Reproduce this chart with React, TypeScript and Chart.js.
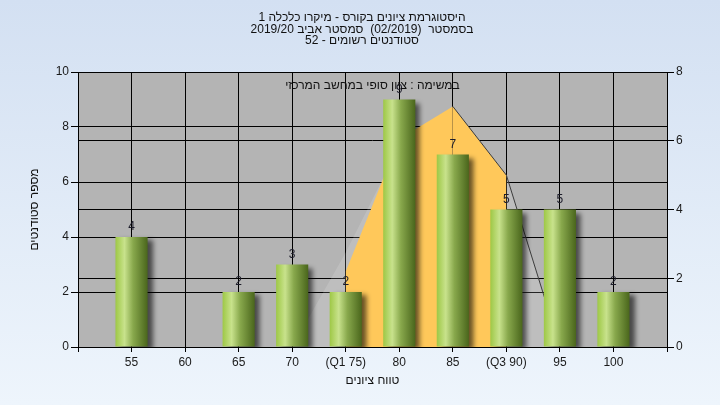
import React, { useEffect, useRef } from 'react';
import { Chart, registerables } from 'chart.js';

Chart.register(...registerables);

const FONT = 'Arial, "Liberation Sans", sans-serif';

const titleLines = [
  'היסטוגרמת ציונים בקורס - מיקרו כלכלה 1',
  'בסמסטר  (02/2019)  סמסטר אביב 2019/20',
  'סטודנטים רשומים - 52',
];
const noteText = 'במשימה : ציון סופי במחשב המרכזי';
const yTitle = 'מספר סטודנטים';
const xTitle = 'טווח ציונים';

const categories = ['', '55', '60', '65', '70', '(Q1 75)', '80', '85', '(Q3 90)', '95', '100', ''];
const studentCounts = [null, 4, 0, 2, 3, 2, 9, 7, 5, 5, 2, null];
const curveAll = [0, 0, 0, 0, 0, 2.75, 5.85, 7, 5, 0, 0, 0];
const curveQ = [null, null, null, null, null, 2.2, 6.05, 7, 5, null, null, null];
const leftTicks = { min: 0, max: 10, step: 2 };
const rightTicks = { min: 0, max: 8, step: 2 };

const bgPlugin = {
  id: 'bgPlugin',
  beforeDraw(chart: any) {
    const { ctx, width, height, chartArea } = chart;
    ctx.save();
    const g = ctx.createLinearGradient(0, 0, 0, height);
    g.addColorStop(0, '#d3e0f2');
    g.addColorStop(1, '#eef5fc');
    ctx.fillStyle = g;
    ctx.fillRect(0, 0, width, height);
    if (chartArea) {
      ctx.fillStyle = '#b4b4b4';
      ctx.fillRect(chartArea.left, chartArea.top, chartArea.right - chartArea.left, chartArea.bottom - chartArea.top);
    }
    ctx.restore();
  },
};

const shadowPlugin = {
  id: 'shadowPlugin',
  beforeDatasetDraw(chart: any, args: any) {
    if (args.index !== 0) return;
    const ctx = chart.ctx;
    ctx.save();
    ctx.shadowColor = 'rgba(0,0,0,0.6)';
    ctx.shadowOffsetX = 5;
    ctx.shadowOffsetY = 3;
    ctx.shadowBlur = 5;
  },
  afterDatasetDraw(chart: any, args: any) {
    if (args.index !== 0) return;
    chart.ctx.restore();
  },
};

const textPlugin = {
  id: 'textPlugin',
  afterDatasetsDraw(chart: any) {
    const { ctx, chartArea } = chart;
    ctx.save();
    ctx.font = `12px ${FONT}`;
    ctx.textAlign = 'center';
    ctx.textBaseline = 'bottom';
    ctx.fillStyle = '#1c1c2a';
    const meta = chart.getDatasetMeta(0);
    meta.data.forEach((el: any, i: number) => {
      const v = studentCounts[i];
      if (!v) return;
      ctx.fillText(String(v), el.x, el.y - 4);
    });
    ctx.textBaseline = 'middle';
    ctx.fillStyle = '#111';
    ctx.direction = 'rtl';
    ctx.fillText(noteText, (chartArea.left + chartArea.right) / 2, chartArea.top + 14);
    ctx.restore();
  },
  afterDraw(chart: any) {
    const ctx = chart.ctx;
    ctx.save();
    ctx.font = `12px ${FONT}`;
    ctx.textAlign = 'center';
    ctx.textBaseline = 'middle';
    ctx.fillStyle = '#111';
    ctx.direction = 'rtl';
    const ys = [18, 30, 41];
    titleLines.forEach((t, i) => ctx.fillText(t, 362, ys[i]));
    ctx.restore();
  },
};

export default function App() {
  const ref = useRef<HTMLCanvasElement | null>(null);
  useEffect(() => {
    if (!ref.current) return;
    const barColor = (c: any) => {
      const chart = c.chart;
      const xs = chart.scales && chart.scales.x;
      if (!xs || c.dataIndex == null) return '#9cc84a';
      const cx = xs.getPixelForValue(c.dataIndex);
      if (!Number.isFinite(cx)) return '#9cc84a';
      const half = 16;
      const g = chart.ctx.createLinearGradient(cx - half, 0, cx + half, 0);
      g.addColorStop(0, '#9ec846');
      g.addColorStop(0.28, '#c8e28c');
      g.addColorStop(0.55, '#88a84c');
      g.addColorStop(1, '#4a661c');
      return g;
    };
    const tickFont = { family: FONT, size: 12 };
    const chart = new Chart(ref.current, {
      type: 'bar',
      data: {
        labels: categories,
        datasets: [
          {
            type: 'bar',
            data: studentCounts as any,
            backgroundColor: barColor as any,
            borderWidth: 0,
            barPercentage: 0.6,
            categoryPercentage: 1,
            yAxisID: 'y',
            order: 0,
          } as any,
          {
            type: 'line',
            data: curveQ as any,
            yAxisID: 'y2',
            backgroundColor: '#ffc85a',
            borderWidth: 1,
            borderColor: 'rgba(0,0,0,0)',
            segment: { borderColor: (c: any) => (c.p0DataIndex === 7 ? '#3c3c3c' : 'rgba(0,0,0,0)') },
            pointRadius: 0,
            tension: 0,
            fill: 'origin',
            spanGaps: false,
            order: 1,
          } as any,
          {
            type: 'line',
            data: curveAll,
            yAxisID: 'y2',
            backgroundColor: 'rgba(255,255,255,0.14)',
            borderWidth: 1,
            borderColor: 'rgba(0,0,0,0)',
            segment: { borderColor: (c: any) => (c.p0DataIndex === 8 ? '#3c3c3c' : 'rgba(0,0,0,0)') },
            pointRadius: 0,
            tension: 0,
            fill: 'origin',
            order: 2,
          } as any,
        ],
      },
      options: {
        responsive: false,
        animation: false,
        layout: { padding: { top: 72, left: 0, right: 0, bottom: 0 } },
        plugins: { legend: { display: false }, tooltip: { enabled: false }, title: { display: false } },
        scales: {
          x: {
            type: 'category',
            offset: false,
            grid: { color: '#000', lineWidth: 1, tickLength: 5, tickColor: '#000', offset: false },
            border: { color: '#000' },
            ticks: { color: '#1a1a1a', font: tickFont, padding: 3, autoSkip: false, maxRotation: 0 },
            title: { display: true, text: xTitle, color: '#111', font: tickFont, padding: { top: 0, bottom: 17 } },
            afterFit: (s: any) => { s.height = 58; },
          },
          y: {
            type: 'linear',
            position: 'left',
            min: leftTicks.min,
            max: leftTicks.max,
            ticks: { stepSize: leftTicks.step, color: '#1a1a1a', font: tickFont, padding: 2 },
            grid: { color: '#000', tickLength: 7, tickColor: '#000' },
            border: { color: '#000' },
            title: { display: true, text: yTitle, color: '#111', font: tickFont, padding: { top: 27, bottom: 0 } },
            afterFit: (s: any) => { s.width = 78; },
          },
          y2: {
            type: 'linear',
            position: 'right',
            min: rightTicks.min,
            max: rightTicks.max,
            ticks: { stepSize: rightTicks.step, color: '#1a1a1a', font: tickFont, padding: 2 },
            grid: { color: '#000', tickLength: 7, tickColor: '#000' },
            border: { color: '#000' },
            afterFit: (s: any) => { s.width = 53; },
          },
        },
      } as any,
      plugins: [bgPlugin, shadowPlugin, textPlugin],
    });
    return () => chart.destroy();
  }, []);
  return (
    <div style={{ position: 'absolute', left: 0, top: 0, width: 720, height: 405 }}>
      <canvas ref={ref} width={720} height={405} style={{ display: 'block', width: 720, height: 405 }} />
    </div>
  );
}
